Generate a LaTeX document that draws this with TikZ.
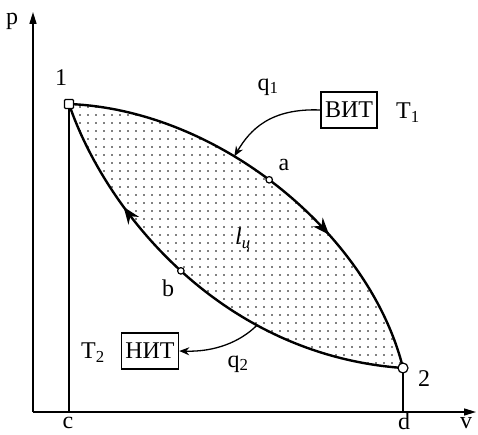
\documentclass[tikz,border=0pt]{standalone}
\usepackage{fontspec}
\setmainfont{Liberation Serif}
\usetikzlibrary{arrows.meta,patterns.meta,decorations.markings}

\begin{document}
\begin{tikzpicture}[x=1pt,y=-1pt,
  lbl/.style={font=\fontsize{24}{26}\selectfont,inner sep=1pt},
  box/.style={draw,line width=1.2pt,font=\fontsize{24}{26}\selectfont,inner sep=4pt,minimum height=36pt},
  axis/.style={line width=1.5pt,-{Triangle[length=12pt,width=7pt]}},
  curve/.style={line width=2.4pt},
  ar/.style={line width=1.3pt,-{Stealth[length=10pt,width=8pt]}},
  flow/.style={postaction={decorate},decoration={markings,mark=at position #1 with {\arrow{Stealth[length=17pt,width=13pt]}}}},
  sqr/.style={draw,fill=white,line width=1.4pt,rounded corners=1pt,minimum size=9pt,inner sep=0pt},
  opn/.style={draw,fill=white,circle,line width=1.2pt,minimum size=#1,inner sep=0pt},
  opn/.default=6.5pt
]
\useasboundingbox (0,0) rectangle (478,435);
\coordinate (one) at (69,104);
\coordinate (two) at (403,368);
\coordinate (O) at (33,412);
\coordinate (c) at (69,412);
\coordinate (d) at (403,412);
\coordinate (ptop) at (33,12);
\coordinate (vend) at (476,412);

% area of the cycle
\fill[pattern={Dots[distance=8pt,radius=0.9pt]}] (one) .. controls (220,110) and (370,235) .. (two) .. controls (220,355) and (105,210) .. (one);

% axes
\draw[axis] (O) -- (ptop);
\draw[axis] (O) -- (vend);
\draw[line width=1.5pt] (c) -- (one);
\draw[line width=1.5pt] (d) -- (two);

% 1-a-2 and 2-b-1
\draw[curve,flow=0.66] (one) .. controls (220,110) and (370,235) .. (two)
  node[pos=0.38,coordinate] (h1) {} node[pos=0.47,opn] (a) {};
\draw[curve,flow=0.74] (two) .. controls (220,355) and (105,210) .. (one)
  node[pos=0.3,coordinate] (h2) {} node[pos=0.5,opn] (b) {};

\node[sqr] (m1) at (one) {};
\node[opn=10pt] (m2) at (two) {};

% labels
\node[lbl] (lp) at (12,21) {p};
\node[lbl] (lv) at (466,423) {v};
\node[lbl] (lc) at (68,423) {c};
\node[lbl] (ld) at (404,421) {d};
\node[lbl] (l1) at (61,78) {1};
\node[lbl] (l2) at (424,379) {2};
\node[lbl] (la) at (284,165) {a};
\node[lbl] (lb) at (168,288) {b};
\node[lbl] (lcyc) at (243,240) {\textit{l}\textsubscript{\textit{ц}}};

% sources
\node[box] (hot) at (349,110) {ВИТ};
\node[lbl] (t1) at (408,113) {T\textsubscript{1}};
\node[lbl] (q1) at (268,87) {q\textsubscript{1}};
\node[box] (cold) at (150,351) {НИТ};
\node[lbl] (t2) at (93,353) {T\textsubscript{2}};
\node[lbl] (q2) at (238,364) {q\textsubscript{2}};

\draw[ar] (hot.west) .. controls (270,108) and (250,130) .. (h1);
\draw[ar] (h2) .. controls (240,342) and (215,352) .. (cold.east);
\end{tikzpicture}
\end{document}
